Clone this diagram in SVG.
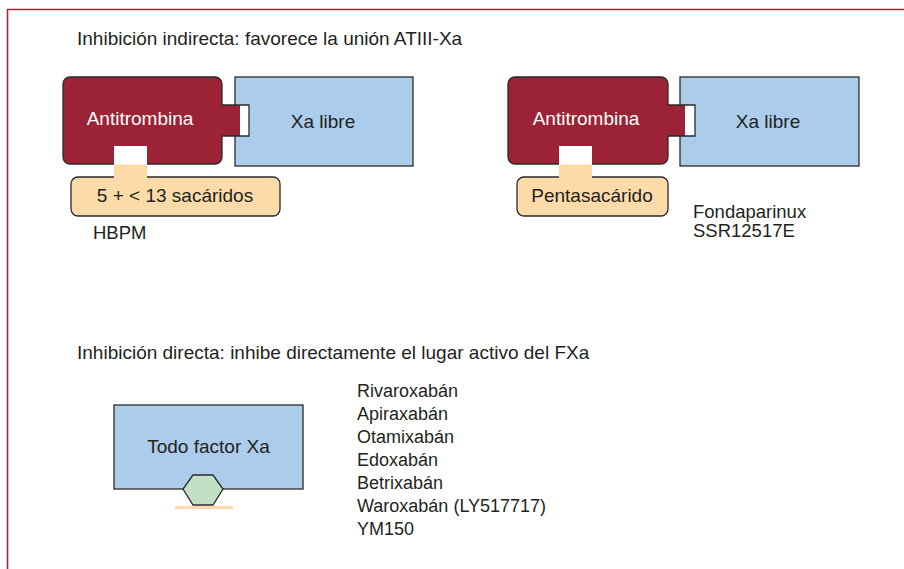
<svg xmlns="http://www.w3.org/2000/svg" width="904" height="569" viewBox="0 0 904 569">
<style>
text{font-family:"Liberation Sans",Arial,sans-serif;fill:#231f20}
.t19{font-size:19px}
.t18{font-size:18.5px}
.l18{font-size:18px}
.w{fill:#ffffff}
.at{fill:#9b2335;stroke:#2a2a2a;stroke-width:1.3}
.xa{fill:#abcdeb;stroke:#2a2a2a;stroke-width:1.3}
.pe{fill:#fddba8;stroke:#2a2a2a;stroke-width:1.3}
.ln{fill:none;stroke:#2a2a2a;stroke-width:1.3}
.mid{text-anchor:middle}
</style>
<path d="M7.5,569 V9.5 H904" fill="none" stroke="#a3283e" stroke-width="1.6"/>
<text class="t19" x="77" y="44.5">Inhibición indirecta: favorece la unión ATIII-Xa</text>
<text class="t19" x="77" y="359">Inhibición directa: inhibe directamente el lugar activo del FXa</text>

<g id="hbpm-complex">
  <rect class="xa" x="235" y="77" width="178" height="89"/>
  <rect class="at" x="63" y="77" width="159" height="87" rx="7"/>
  <rect class="pe" x="71" y="177" width="209" height="39" rx="7"/>
  <rect x="114" y="146" width="33" height="19" class="w"/>
  <rect x="114" y="164.5" width="33" height="13.5" fill="#fddba8"/>
  <rect x="221" y="105" width="19" height="31" fill="#9b2335"/>
  <rect x="240" y="105" width="9" height="31" class="w"/>
  <path class="ln" d="M222,105 H249 V136 H222"/>
  <text class="t19 mid" x="140" y="125" fill="#fff" style="fill:#fff">Antitrombina</text>
  <text class="t19 mid" x="323" y="128">Xa libre</text>
  <text class="t19 mid" x="175" y="202">5 + &lt; 13 sacáridos</text>
  <text class="t18" x="93" y="239">HBPM</text>
</g>

<g id="pentasacarido-complex">
  <rect class="xa" x="680" y="77" width="179" height="89"/>
  <rect class="at" x="508" y="77" width="160" height="87" rx="7"/>
  <rect class="pe" x="517" y="177" width="151" height="39" rx="7"/>
  <rect x="559" y="146" width="33" height="19" class="w"/>
  <rect x="559" y="164.5" width="33" height="13.5" fill="#fddba8"/>
  <rect x="667" y="105" width="18" height="31" fill="#9b2335"/>
  <rect x="685" y="105" width="10" height="31" class="w"/>
  <path class="ln" d="M668,105 H695 V136 H668"/>
  <text class="t19 mid" x="586" y="125" style="fill:#fff">Antitrombina</text>
  <text class="t19 mid" x="768" y="128">Xa libre</text>
  <text class="t19 mid" x="592" y="202">Pentasacárido</text>
  <text class="t18" x="693" y="218">Fondaparinux</text>
  <text class="t18" x="693" y="237">SSR12517E</text>
</g>

<g id="directo">
  <rect class="xa" x="114" y="405" width="189" height="84"/>
  <polygon points="193,475 213,475 223,489 213,505 193,505 183,489" fill="#c4e0c4" stroke="#2a2a2a" stroke-width="1.3"/>
  <rect x="175" y="506" width="58" height="3" fill="#fddba8"/>
  <text class="t19 mid" x="208.5" y="453">Todo factor Xa</text>
</g>

<g id="lista">
  <text class="l18" x="357" y="397">Rivaroxabán</text>
  <text class="l18" x="357" y="420">Apiraxabán</text>
  <text class="l18" x="357" y="443">Otamixabán</text>
  <text class="l18" x="357" y="466">Edoxabán</text>
  <text class="l18" x="357" y="489">Betrixabán</text>
  <text class="l18" x="357" y="512">Waroxabán (LY517717)</text>
  <text class="l18" x="357" y="535">YM150</text>
</g>

<g id="connectors"></g>
</svg>
